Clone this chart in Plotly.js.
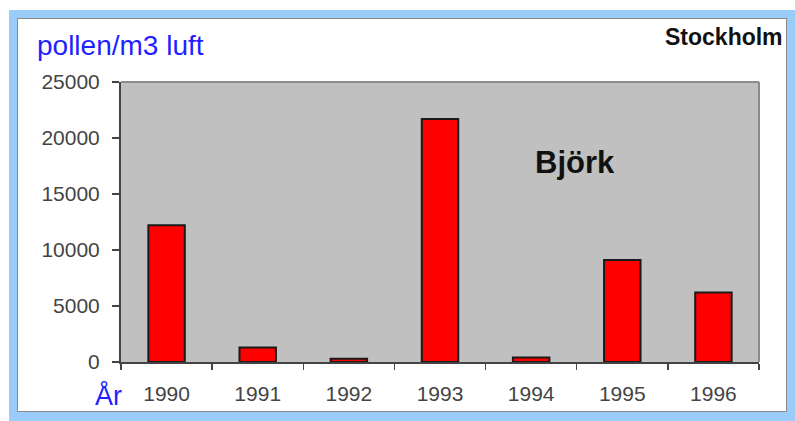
<!DOCTYPE html>
<html>
<head>
<meta charset="utf-8">
<script src="https://cdn.plot.ly/plotly-3.0.1.min.js"></script>
<style>
  html, body { margin: 0; padding: 0; background: #ffffff; width: 795px; height: 421px; overflow: hidden; }
  #frame { position: absolute; left: 9px; top: 10px; width: 786px; height: 411px; box-sizing: border-box;
           background: #99ccf8; }
  #panel { position: absolute; left: 17px; top: 18px; width: 770px; height: 394px; box-sizing: border-box;
           background: #ffffff; border: 1px solid #8a8a8a; }
  #chart { position: absolute; left: 0; top: 0; width: 795px; height: 421px; }
</style>
</head>
<body>
<div id="frame"></div>
<div id="panel"></div>
<div id="chart"></div>
<script>
const years = ['1990', '1991', '1992', '1993', '1994', '1995', '1996'];
const pollen = [12200, 1300, 300, 21700, 400, 9100, 6200];
const yTicks = [0, 5000, 10000, 15000, 20000, 25000];

const trace = {
  type: 'bar',
  x: years,
  y: pollen,
  marker: { color: '#ff0000', line: { color: '#1a1a1a', width: 2 } },
  hoverinfo: 'x+y'
};

const layout = {
  width: 795, height: 421,
  margin: { l: 121, r: 36, t: 82, b: 59, pad: 0 },
  paper_bgcolor: 'rgba(0,0,0,0)',
  plot_bgcolor: '#c0c0c0',
  bargap: 0.6,
  showlegend: false,
  font: { family: 'Liberation Sans, Arial, sans-serif', color: '#444444' },
  xaxis: {
    type: 'category',
    showgrid: false, zeroline: false,
    showline: true, linecolor: '#444444', linewidth: 2,
    ticks: 'outside', tickson: 'boundaries', ticklen: 6, tickwidth: 1.5, tickcolor: '#444444',
    tickfont: { size: 21, color: '#444444' },
    ticklabelstandoff: 12
  },
  yaxis: {
    range: [0, 25000],
    tickvals: yTicks,
    ticktext: yTicks.map(String),
    showgrid: false, zeroline: false,
    showline: true, linecolor: '#444444', linewidth: 2,
    ticks: 'outside', ticklen: 7, tickwidth: 1.5, tickcolor: '#444444',
    tickfont: { size: 21, color: '#444444' },
    ticklabelstandoff: 8
  },
  shapes: [
    { type: 'line', xref: 'paper', yref: 'paper', x0: 0, x1: 1, y0: 1, y1: 1, line: { color: '#8c8c8c', width: 2 } },
    { type: 'line', xref: 'paper', yref: 'paper', x0: 1, x1: 1, y0: 0, y1: 1, line: { color: '#8c8c8c', width: 2 } }
  ],
  annotations: [
    { text: 'pollen/m3 luft', xref: 'paper', yref: 'paper', x: -0.135, y: 1.132, xanchor: 'left', yanchor: 'middle',
      showarrow: false, font: { size: 28, color: '#1f1fff' } },
    { text: '<b>Stockholm</b>', xref: 'paper', yref: 'paper', x: 1.041, y: 1.161, xanchor: 'right', yanchor: 'middle',
      showarrow: false, font: { size: 23, color: '#111111' } },
    { text: '<b>Björk</b>', xref: 'paper', yref: 'paper', x: 0.712, y: 0.711, xanchor: 'center', yanchor: 'middle',
      showarrow: false, font: { size: 31, color: '#111111' } },
    { text: 'År', xref: 'paper', yref: 'paper', x: 0.005, y: -0.118, xanchor: 'right', yanchor: 'middle',
      showarrow: false, font: { size: 27, color: '#1f1fff' } }
  ]
};

Plotly.newPlot('chart', [trace], layout, { displayModeBar: false, staticPlot: true });
</script>
</body>
</html>
